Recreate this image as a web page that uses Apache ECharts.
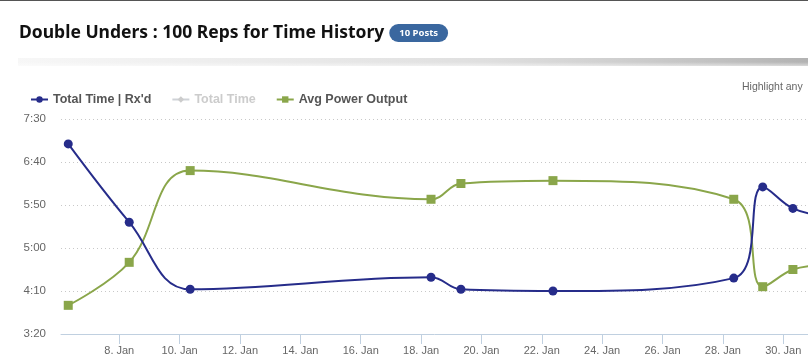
<!DOCTYPE html>
<html>
<head>
<meta charset="utf-8">
<script src="https://cdn.jsdelivr.net/npm/echarts@6/dist/echarts.min.js"></script>
<style>
html,body{margin:0;padding:0;background:#fff;}
#c{width:808px;height:359px;}
</style>
</head>
<body>
<div id="c"></div>
<script>
// Day of January (fractional) for each post
var postDays = [6.31, 8.33, 10.35, 18.33, 19.32, 22.37, 28.36, 29.32, 30.32, 31.33];
// Total Time | Rx'd in seconds
var totalTimeRx = [421, 330, 252, 266, 252, 250, 265, 371, 346, 338];
// Avg Power Output (secondary, hidden axis)
var avgPower = [20, 50, 114, 94, 105, 107, 94, 33, 45, 48];
// Axis tick values
var xTickDays = [8, 10, 12, 14, 16, 18, 20, 22, 24, 26, 28, 30];
var yTicks = [200, 250, 300, 350, 400, 450];

function pairs(xs, ys) { return xs.map(function (x, i) { return [x, ys[i]]; }); }
function fmtTime(s) { var m = Math.floor(s / 60), r = Math.round(s % 60); return m + ':' + (r < 10 ? '0' : '') + r; }

var chart = echarts.init(document.getElementById('c'), null, { renderer: 'canvas' });
var blue = '#262c8a', green = '#8aa64a';
chart.setOption({
  animation: false,
  backgroundColor: '#fff',
  title: {
    left: 14, top: 19,
    text: '{t|Double Unders : 100 Reps for Time History} {b|10 Posts}',
    textStyle: {
      rich: {
        t: { fontFamily: 'Noto Sans', fontWeight: 'bold', fontSize: 17.5, color: '#111' },
        b: { fontFamily: 'Noto Sans', fontWeight: 'bold', fontSize: 9.5, color: '#fff', backgroundColor: '#3a679f', borderRadius: 9, padding: [4, 10, 4, 10] }
      }
    }
  },
  graphic: [
    { type: 'rect', shape: { x: 0, y: 0, width: 808, height: 1 }, style: { fill: '#555' } },
    { type: 'rect', shape: { x: 18, y: 58, width: 790, height: 8 },
      style: { fill: new echarts.graphic.LinearGradient(0, 0, 1, 0, [
        { offset: 0, color: 'rgba(200,200,200,0.15)' },
        { offset: 0.6, color: 'rgba(190,190,190,0.5)' },
        { offset: 1, color: 'rgba(170,170,170,0.9)' }]) } },
    { type: 'rect', shape: { x: 0, y: 62, width: 808, height: 8 },
      style: { fill: new echarts.graphic.LinearGradient(0, 0, 0, 1, [
        { offset: 0, color: 'rgba(255,255,255,0)' },
        { offset: 1, color: 'rgba(255,255,255,1)' }]) } },
    { type: 'text', left: 742, top: 82, style: { text: 'Highlight any', fontFamily: 'Liberation Sans', fontSize: 10.5, fill: '#666' } }
  ],
  legend: {
    left: 25, top: 88,
    itemWidth: 17, itemHeight: 8, itemGap: 20,
    textStyle: { fontFamily: 'Liberation Sans', fontWeight: 'bold', fontSize: 12.5, color: '#555' },
    inactiveColor: '#ccc',
    selected: { 'Total Time': false },
    data: ["Total Time | Rx'd", 'Total Time', 'Avg Power Output']
  },
  grid: { left: 61, right: 0, top: 119, bottom: 25 },
  xAxis: {
    type: 'value', min: 6.07, max: 30.82,
    axisLine: { lineStyle: { color: '#c0d0e0' } },
    axisTick: { customValues: xTickDays, length: 10, lineStyle: { color: '#c0d0e0' } },
    axisLabel: { customValues: xTickDays, formatter: function (v) { return Math.round(v) + '. Jan'; },
      fontFamily: 'Liberation Sans', fontSize: 11, color: '#666', margin: 11 },
    splitLine: { show: false }
  },
  yAxis: [{
    type: 'value', min: 200, max: 450, interval: 50,
    axisLine: { show: false }, axisTick: { show: false },
    axisLabel: { formatter: fmtTime, fontFamily: 'Liberation Sans', fontSize: 11.5, color: '#666', margin: 15 },
    splitLine: { lineStyle: { color: '#c8c8c8', type: [1, 3] } }
  }, {
    type: 'value', min: 0, max: 150, show: false, splitLine: { show: false }
  }],
  series: [{
    name: "Total Time | Rx'd", type: 'line', smooth: 0.4,
    data: pairs(postDays, totalTimeRx),
    color: blue, symbol: 'circle', symbolSize: 9,
    lineStyle: { width: 2, color: blue }, itemStyle: { color: blue }, z: 3
  }, {
    name: 'Total Time', type: 'line', data: [], color: '#aaa', symbol: 'diamond', symbolSize: 8
  }, {
    name: 'Avg Power Output', type: 'line', smooth: 0.4, yAxisIndex: 1,
    data: pairs(postDays, avgPower),
    color: green, symbol: 'rect', symbolSize: 9,
    lineStyle: { width: 2, color: green }, itemStyle: { color: green }, z: 2
  }]
});
</script>
</body>
</html>
